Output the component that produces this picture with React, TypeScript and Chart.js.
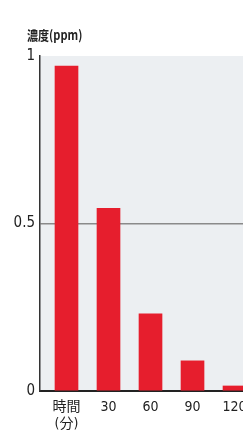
import React, { useEffect, useRef } from "react";
import { Chart, registerables } from "chart.js";
Chart.register(...registerables);

const categories: (string | string[])[] = [["時間", "(分)"], "30", "60", "90", "120"];
const concentration = [0.97, 0.545, 0.23, 0.09, 0.015];
const yTicks = [0, 0.5, 1];
const yTitle = "濃度(ppm)";

const FONT = "'Liberation Sans Narrow', 'DejaVu Sans Condensed', 'Noto Sans CJK JP', sans-serif";

export default function App() {
  const ref = useRef<HTMLCanvasElement>(null);
  useEffect(() => {
    document.body.style.margin = "0";
    const bgPlugin = {
      id: "bg",
      beforeDraw(chart: any) {
        const { ctx, chartArea } = chart;
        ctx.save();
        ctx.fillStyle = "#eceff2";
        ctx.fillRect(chartArea.left, chartArea.top, chartArea.right - chartArea.left, chartArea.bottom - chartArea.top);
        ctx.restore();
      },
      afterDraw(chart: any) {
        const { ctx, chartArea } = chart;
        ctx.save();
        ctx.fillStyle = "#222";
        ctx.font = "bold 13px 'Noto Sans CJK JP', sans-serif";
        ctx.textBaseline = "middle";
        ctx.textAlign = "left";
        ctx.translate(chartArea.left - 13, 35);
        ctx.scale(0.85, 1);
        ctx.fillText(yTitle, 0, 0);
        ctx.restore();
      },
    };
    const chart = new Chart(ref.current!, {
      type: "bar",
      data: {
        datasets: [
          {
            data: concentration.map((v, i) => ({ x: i, y: v })),
            backgroundColor: "#e61e2d",
            barThickness: 23,
          },
        ],
      },
      options: {
        animation: false,
        responsive: false,
        maintainAspectRatio: false,
        layout: { padding: { top: 56, right: 0, left: 0, bottom: 0 } },
        plugins: { legend: { display: false }, tooltip: { enabled: false } },
        scales: {
          x: {
            type: "linear",
            offset: false,
            min: -0.631,
            max: 4.202,
            afterBuildTicks: (axis: any) => {
              axis.ticks = categories.map((_, i) => ({ value: i }));
            },
            afterFit: (axis: any) => {
              axis.height = 55;
              axis.paddingLeft = 0;
              axis.paddingRight = 0;
            },
            ticks: {
              callback: (v: any) => categories[v as number],
              color: "#222",
              font: { family: FONT, size: 14 },
              padding: 8,
              maxRotation: 0,
              autoSkip: false,
            },
            grid: { display: false, drawTicks: false },
            border: { display: true, color: "#222", width: 2 },
          },
          y: {
            min: 0,
            max: 1,
            afterBuildTicks: (axis: any) => {
              axis.ticks = yTicks.map((v) => ({ value: v }));
            },
            afterFit: (axis: any) => {
              axis.width = 40;
              axis.paddingTop = 0;
              axis.paddingBottom = 0;
            },
            ticks: {
              callback: (v: any) => String(v),
              color: "#222",
              font: { family: FONT, size: 15 },
              padding: 5,
            },
            grid: {
              drawTicks: false,
              color: (c: any) => (c.tick && c.tick.value === 0.5 ? "#8a8a8a" : "rgba(0,0,0,0)"),
              lineWidth: 1.5,
            },
            border: { display: true, color: "#333", width: 1.5 },
          },
        },
      },
      plugins: [bgPlugin],
    });
    return () => chart.destroy();
  }, []);
  return (
    <div style={{ position: "fixed", left: 0, top: 0, width: 243, height: 446, background: "#fff" }}>
      <canvas ref={ref} width={243} height={446} style={{ width: 243, height: 446 }} />
    </div>
  );
}
